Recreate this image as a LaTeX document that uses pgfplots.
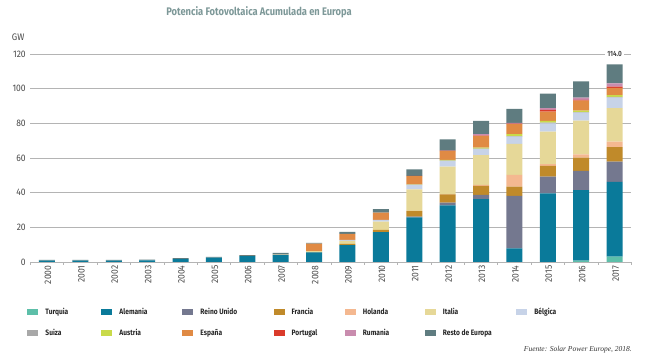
\documentclass[border=0pt]{standalone}
\usepackage{fontspec}
\setmainfont{Fira Sans}[FakeStretch=0.85]
\newfontfamily\tickf{Fira Sans}[FakeStretch=0.9]
\newfontfamily\fuente{Liberation Serif}
\usepackage{pgfplots}
\usepackage{pgfplotstable}
\pgfplotsset{compat=1.18}
\definecolor{cTur}{HTML}{5DBFA9}
\definecolor{cAle}{HTML}{0A7A9A}
\definecolor{cUK}{HTML}{74788F}
\definecolor{cFra}{HTML}{C08A2A}
\definecolor{cHol}{HTML}{F4B890}
\definecolor{cIta}{HTML}{E6D898}
\definecolor{cBel}{HTML}{C7D3E8}
\definecolor{cSui}{HTML}{A8A8A8}
\definecolor{cAus}{HTML}{C9DA4A}
\definecolor{cEsp}{HTML}{E08A44}
\definecolor{cPor}{HTML}{DA3B2B}
\definecolor{cRum}{HTML}{C98CAE}
\definecolor{cRes}{HTML}{5F7C80}
\definecolor{gridgray}{HTML}{B4B4B4}
\definecolor{titlecol}{HTML}{7D9898}
\definecolor{labgray}{HTML}{4A4A4A}
\newcommand{\LE}[2]{\makebox[#1][l]{\hspace{7pt}#2}}
\pgfplotstableread{
idx Tur Ale UK Fra Hol Ita Bel Sui Aus Esp Por Rum Res
0 0 0.8 0 0 0 0 0 0 0 0 0 0 0.4
1 0 0.8 0 0 0 0 0 0 0 0 0 0 0.4
2 0 0.8 0 0 0 0 0 0 0 0 0 0 0.4
3 0 0.9 0 0 0 0 0 0 0 0 0 0 0.4
4 0 1.7 0 0 0 0 0 0 0 0 0 0 0.5
5 0 2.5 0 0 0 0 0 0 0 0 0 0 0.4
6 0 3.4 0 0 0 0 0 0 0 0.2 0 0 0.3
7 0 3.9 0 0 0 0.4 0 0 0 0 0 0 1.0
8 0 5.6 0 0.1 0 0.5 0.1 0 0 4.3 0 0 0.4
9 0 9.8 0 0.6 0 1.8 0.5 0 0 3.5 0 0 1.2
10 0 17.3 0 1.2 0 4.8 1.0 0 0 4.2 0 0 2.0
11 0 25.8 0.4 3.2 0.1 12.4 2.5 0.2 0.2 4.8 0.1 0 3.8
12 0 32.7 1.6 4.7 0.2 15.8 3.3 0.2 0.4 5.1 0.2 0 6.6
13 0 36.2 2.5 5.2 0.6 17.2 3.4 0.3 0.6 6.7 0.2 0.8 7.7
14 0 7.9 30.2 5.4 6.7 17.9 4.2 0.3 1.2 5.8 0.2 0.5 8.0
15 0 39.6 9.6 6.2 1.1 18.7 4.8 0.4 1.0 5.4 0.9 1.0 8.4
16 0.8 40.7 11.0 7.7 1.9 19.5 4.6 0.3 0.8 5.8 0.5 1.2 9.4
17 3.1 43.1 11.7 8.3 3.2 19.3 6.1 0.4 1.0 4.2 0.8 1.8 11.0
}\data
\begin{document}
\begin{tikzpicture}
\begin{axis}[
  scale only axis, width=601pt, height=208pt, clip=false,
  ybar stacked, bar width=16pt,
  xmin=-0.5, xmax=17.5, ymin=0, ymax=120,
  xtick={0,...,17},
  xticklabels={2000,2001,2002,2003,2004,2005,2006,2007,2008,2009,2010,2011,2012,2013,2014,2015,2016,2017},
  minor xtick={-0.5,0.5,...,17.5},
  ytick={0,20,...,120},
  ymajorgrids, grid style={color=gridgray, line width=0.6pt},
  axis lines*=left,
  x axis line style={color=gridgray, line width=0.6pt},
  y axis line style={draw=none},
  major tick length=0pt,
  minor tick length=3pt,
  xtick align=outside,
  minor x tick style={color=gridgray, line width=0.6pt},
  /pgf/number format/assume math mode=true,
  ticklabel style={font=\tickf\fontsize{9.5}{10}\selectfont, text=labgray},
  xticklabel style={rotate=90, anchor=east, yshift=-1pt},
  yticklabel style={xshift=-1pt},
  legend columns=7,
  legend image code/.code={\fill[#1] (0pt,-3pt) rectangle (11pt,3pt);},
  legend style={draw=none, fill=none, at={(axis description cs:0,0)}, anchor=west,
    xshift=-6pt, yshift=-60.5pt, column sep=0pt, row sep=14pt,
    nodes={inner sep=0pt, text height=6pt, text depth=1pt, font=\bfseries\fontsize{7.8}{8}\selectfont, text=black!85}},
  every axis plot/.append style={draw=none},
]
\addplot+[fill=cTur] table[x=idx,y=Tur]{\data};
\addplot+[fill=cAle] table[x=idx,y=Ale]{\data};
\addplot+[fill=cUK] table[x=idx,y=UK]{\data};
\addplot+[fill=cFra] table[x=idx,y=Fra]{\data};
\addplot+[fill=cHol] table[x=idx,y=Hol]{\data};
\addplot+[fill=cIta] table[x=idx,y=Ita]{\data};
\addplot+[fill=cBel] table[x=idx,y=Bel]{\data};
\addplot+[fill=cSui] table[x=idx,y=Sui]{\data};
\addplot+[fill=cAus] table[x=idx,y=Aus]{\data};
\addplot+[fill=cEsp] table[x=idx,y=Esp]{\data};
\addplot+[fill=cPor] table[x=idx,y=Por]{\data};
\addplot+[fill=cRum] table[x=idx,y=Rum]{\data};
\addplot+[fill=cRes] table[x=idx,y=Res]{\data};
\legend{\LE{63pt}{Turquia},\LE{70pt}{Alemania},\LE{80.2pt}{Reino Unido},\LE{60.2pt}{Francia},\LE{69pt}{Holanda},\LE{80.5pt}{Italia},\LE{50pt}{Bélgica},
\LE{63pt}{Suiza},\LE{70pt}{Austria},\LE{80.2pt}{España},\LE{60.2pt}{Portugal},\LE{69pt}{Rumania},\LE{80.5pt}{Resto de Europa}}
\node[fill=white, inner xsep=2pt, inner ysep=1pt, font=\bfseries\fontsize{7.5}{8}\selectfont, text=labgray] at (axis cs:17,120) {114.0};
\end{axis}
\node[font=\bfseries\fontsize{11}{13}\selectfont, text=titlecol] at (228.7pt,250pt) {Potencia Fotovoltaica Acumulada en Europa};
\node[anchor=west, font=\tickf\fontsize{9.5}{10}\selectfont, text=labgray, inner sep=0pt] at (-18.5pt,225pt) {GW};
\node[anchor=east, font=\fuente\itshape\fontsize{7.5}{9}\selectfont, text=black!80, inner sep=0pt] at (601.7pt,-88pt) {Fuente: Solar Power Europe, 2018.};
\pgfresetboundingbox
\path[use as bounding box] (-30.3pt,-101pt) rectangle (618.7pt,262pt);
\end{tikzpicture}
\end{document}
